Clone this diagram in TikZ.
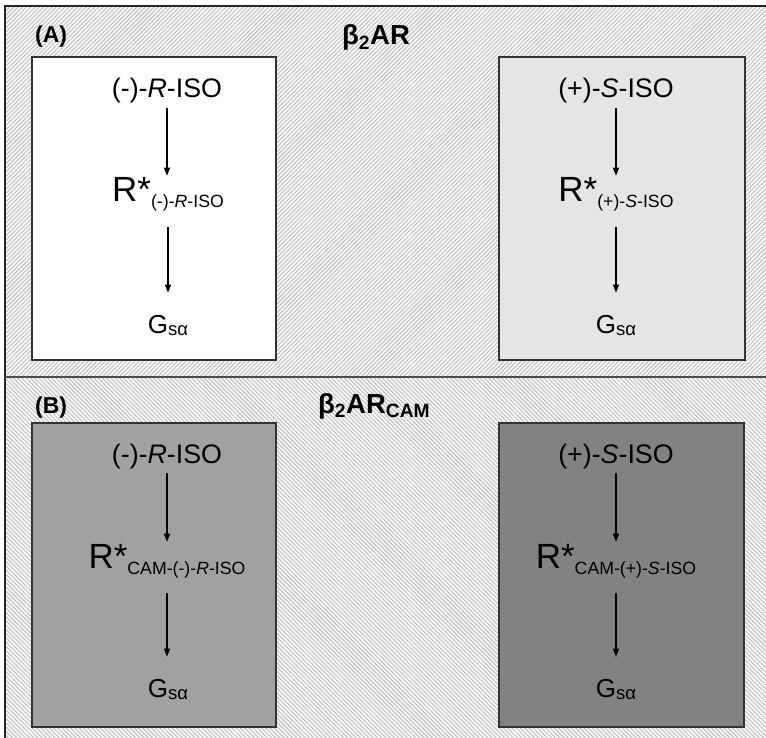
\documentclass[tikz,border=0pt]{standalone}
\usepackage{fontspec}
\setmainfont{Liberation Sans}
\usetikzlibrary{arrows.meta,patterns.meta}
\begin{document}
\begin{tikzpicture}[x=1pt,y=-1pt,line join=miter,>={Triangle[length=8pt,width=6pt]}]
	\tikzset{
	hatchA/.style={pattern={Lines[angle=45,distance=3pt,line width=1.1pt]},pattern color=black!25},
	hatchB/.style={pattern={Lines[angle=-45,distance=3pt,line width=1.1pt]},pattern color=black!25},
	panel/.style={draw=black!80,line width=1.5pt},
	lig/.style={anchor=base,inner sep=0pt,font=\fontsize{26.8}{29}\selectfont},
	rstar/.style={anchor=base,inner sep=0pt,font=\fontsize{35}{38}\selectfont},
	gsa/.style={anchor=base,inner sep=0pt,font=\fontsize{26}{28}\selectfont},
	tag/.style={anchor=base west,inner sep=0pt,font=\fontsize{23}{25}\selectfont\bfseries},
	title/.style={anchor=base west,inner sep=0pt,font=\fontsize{27.5}{30}\selectfont\bfseries},
	tostar/.style={->,line width=1.2pt,shorten <=4pt,shorten >=2pt},
	togs/.style={->,line width=1.2pt,shorten <=15pt,shorten >=22pt}
	}
	\def\sub#1{\raisebox{-6pt}{\fontsize{17.7}{19}\selectfont#1}}
	\def\gsub{\raisebox{-2pt}{\fontsize{18.5}{20}\selectfont sα}}
	\useasboundingbox(0,0)rectangle(766,738);
	% background hatching
	\fill[white](0,0)rectangle(766,738);
	\path[hatchA](5,6)rectangle(766,377);
	\path[hatchB](5,377)rectangle(766,738);
	\draw[line width=2pt,black!85](5,738)--(5,6)--(766,6);
	\draw[line width=2pt,black!70](5,377)--(766,377);
	% panel (A)
	\node[tag](tA)at(35,43){(A)};
	\node[title](hA)at(342,45){β\textsubscript{2}AR};
	\draw[panel,fill=white](32,57)rectangle(276,360);
	\draw[panel,fill=black!10](499,57)rectangle(745,360);
	\node[lig](ligAL)at(167,98){(-)-\textit{R}-ISO};
	\node[rstar](rAL)at(168,202){R*\sub{(-)-\textit{R}-ISO}};
	\node[gsa](gAL)at(168,333){G\gsub};
	\node[lig](ligAR)at(616,98){(+)-\textit{S}-ISO};
	\node[rstar](rAR)at(616,202){R*\sub{(+)-\textit{S}-ISO}};
	\node[gsa](gAR)at(616,333){G\gsub};
	\draw[tostar](ligAL)--(ligAL|-rAL.north);
	\draw[togs](rAL)--(rAL|-gAL.north);
	\draw[tostar](ligAR)--(ligAR|-rAR.north);
	\draw[togs](rAR)--(rAR|-gAR.north);
	% panel (B)
	\node[tag](tB)at(35,413){(B)};
	\node[title](hB)at(318,413){β\textsubscript{2}AR\textsubscript{CAM}};
	\draw[panel,fill=black!37](32,423)rectangle(276,727);
	\draw[panel,fill=black!49](499,423)rectangle(744,727);
	\node[lig](ligBL)at(167,463){(-)-\textit{R}-ISO};
	\node[rstar](rBL)at(167,568){R*\sub{CAM-(-)-\textit{R}-ISO}};
	\node[gsa](gBL)at(168,697){G\gsub};
	\node[lig](ligBR)at(616,463){(+)-\textit{S}-ISO};
	\node[rstar](rBR)at(616,568){R*\sub{CAM-(+)-\textit{S}-ISO}};
	\node[gsa](gBR)at(616,697){G\gsub};
	\draw[tostar](ligBL)--(ligBL|-rBL.north);
	\draw[togs](rBL)--(rBL|-gBL.north);
	\draw[tostar](ligBR)--(ligBR|-rBR.north);
	\draw[togs](rBR)--(rBR|-gBR.north);
\end{tikzpicture}
\end{document}
